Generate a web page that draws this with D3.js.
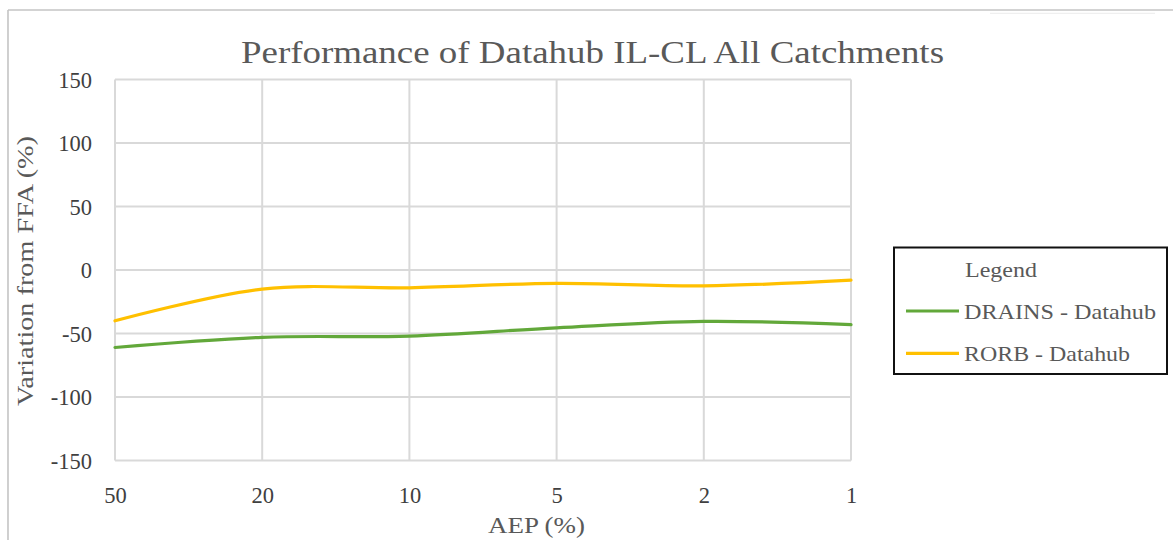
<!DOCTYPE html>
<html>
<head>
<meta charset="utf-8">
<script src="https://cdn.jsdelivr.net/npm/d3@7"></script>
<style>
  html, body { margin: 0; padding: 0; background: #fff; }
  svg { display: block; }
  svg text { font-family: "Liberation Serif", Tinos, "Times New Roman", Times, "DejaVu Serif", "Noto Serif", serif; }
</style>
</head>
<body>
<svg id="chart" width="1173" height="540"></svg>
<script>
// Annual exceedance probability categories (%)
const categories = ["50", "20", "10", "5", "2", "1"];
// Variation from FFA (%) for each model
const drainsValues = [-61, -53, -52, -45.5, -40.5, -43];
const rorbValues = [-40, -15, -14, -10.5, -12.5, -8];
const yTicks = [150, 100, 50, 0, -50, -100, -150];

const seriesList = [
  { name: "DRAINS - Datahub", values: drainsValues, color: "#62A83A", width: 192 },
  { name: "RORB - Datahub", values: rorbValues, color: "#FFC000", width: 166 }
];

const svg = d3.select("#chart");
const W = 1173, H = 540;
const plot = { left: 115, right: 851, top: 79.5, bottom: 460.5 };

const x = d3.scalePoint().domain(categories).range([plot.left, plot.right]);
const y = d3.scaleLinear().domain([-150, 150]).range([plot.bottom, plot.top]);

// Outer chart frame
svg.append("line").attr("x1", 8).attr("x2", W).attr("y1", 10).attr("y2", 10)
  .attr("stroke", "#c4c4c4").attr("stroke-width", 1.6);
svg.append("line").attr("x1", 8).attr("x2", 8).attr("y1", 10).attr("y2", H)
  .attr("stroke", "#c4c4c4").attr("stroke-width", 1.6);
svg.append("line").attr("x1", 990).attr("x2", 1155).attr("y1", 13.3).attr("y2", 13.3)
  .attr("stroke", "#ececec").attr("stroke-width", 1);

// Title
svg.append("text")
  .attr("x", 241).attr("y", 63)
  .attr("font-size", 32)
  .attr("fill", "#595959")
  .attr("textLength", 703)
  .attr("lengthAdjust", "spacingAndGlyphs")
  .text("Performance of Datahub IL-CL All Catchments");

// Gridlines
const grid = svg.append("g").attr("class", "grid");
grid.selectAll("line.h").data(yTicks).join("line")
  .attr("class", "h")
  .attr("x1", plot.left).attr("x2", plot.right)
  .attr("y1", d => y(d)).attr("y2", d => y(d))
  .attr("stroke", "#d9d9d9").attr("stroke-width", 2);
grid.selectAll("line.v").data(categories).join("line")
  .attr("class", "v")
  .attr("x1", d => x(d)).attr("x2", d => x(d))
  .attr("y1", plot.top).attr("y2", plot.bottom)
  .attr("stroke", "#d9d9d9").attr("stroke-width", 2);

// Y axis labels
const yAxis = svg.append("g")
  .attr("transform", `translate(${plot.left - 23},0)`)
  .call(d3.axisLeft(y).tickValues(yTicks).tickSize(0).tickPadding(0).tickFormat(d => String(d)));
yAxis.select(".domain").remove();
yAxis.selectAll("text")
  .attr("font-size", 22.5)
  .attr("fill", "#404040").attr("dy", "0.34em");

// X axis labels
const xAxis = svg.append("g")
  .attr("transform", `translate(0,${plot.bottom + 27})`)
  .call(d3.axisBottom(x).tickSize(0).tickPadding(0));
xAxis.select(".domain").remove();
xAxis.selectAll("text")
  .attr("font-size", 22.5)
  .attr("fill", "#404040");

// Axis titles
svg.append("text")
  .attr("x", 488).attr("y", 533)
  .attr("font-size", 23)
  .attr("fill", "#595959")
  .attr("textLength", 97)
  .attr("lengthAdjust", "spacingAndGlyphs")
  .text("AEP (%)");
svg.append("text")
  .attr("transform", "translate(33,406) rotate(-90)")
  .attr("font-size", 23)
  .attr("fill", "#595959")
  .attr("textLength", 270)
  .attr("lengthAdjust", "spacingAndGlyphs")
  .text("Variation from FFA (%)");

// Smoothed series lines
const line = d3.line()
  .x((d, i) => x(categories[i]))
  .y(d => y(d))
  .curve(d3.curveCatmullRom.alpha(0.5));

svg.append("g").selectAll("path").data(seriesList).join("path")
  .attr("d", s => line(s.values))
  .attr("fill", "none")
  .attr("stroke", s => s.color)
  .attr("stroke-width", 3.2)
  .attr("stroke-linecap", "round");

// Legend
const lg = svg.append("g");
lg.append("rect")
  .attr("x", 894).attr("y", 247.5).attr("width", 273).attr("height", 126.5)
  .attr("fill", "#fff").attr("stroke", "#111").attr("stroke-width", 2);
lg.append("text")
  .attr("x", 965).attr("y", 277)
  .attr("font-size", 22).attr("fill", "#595959")
  .attr("textLength", 72)
  .attr("lengthAdjust", "spacingAndGlyphs")
  .text("Legend");
seriesList.forEach((s, i) => {
  const ly = 311 + i * 42.3;
  lg.append("line")
    .attr("x1", 906).attr("x2", 959).attr("y1", ly).attr("y2", ly)
    .attr("stroke", s.color).attr("stroke-width", 3.2);
  lg.append("text")
    .attr("x", 964).attr("y", ly + 8)
    .attr("font-size", 22).attr("fill", "#595959")
    .attr("textLength", s.width)
    .attr("lengthAdjust", "spacingAndGlyphs")
    .text(s.name);
});
</script>
</body>
</html>
